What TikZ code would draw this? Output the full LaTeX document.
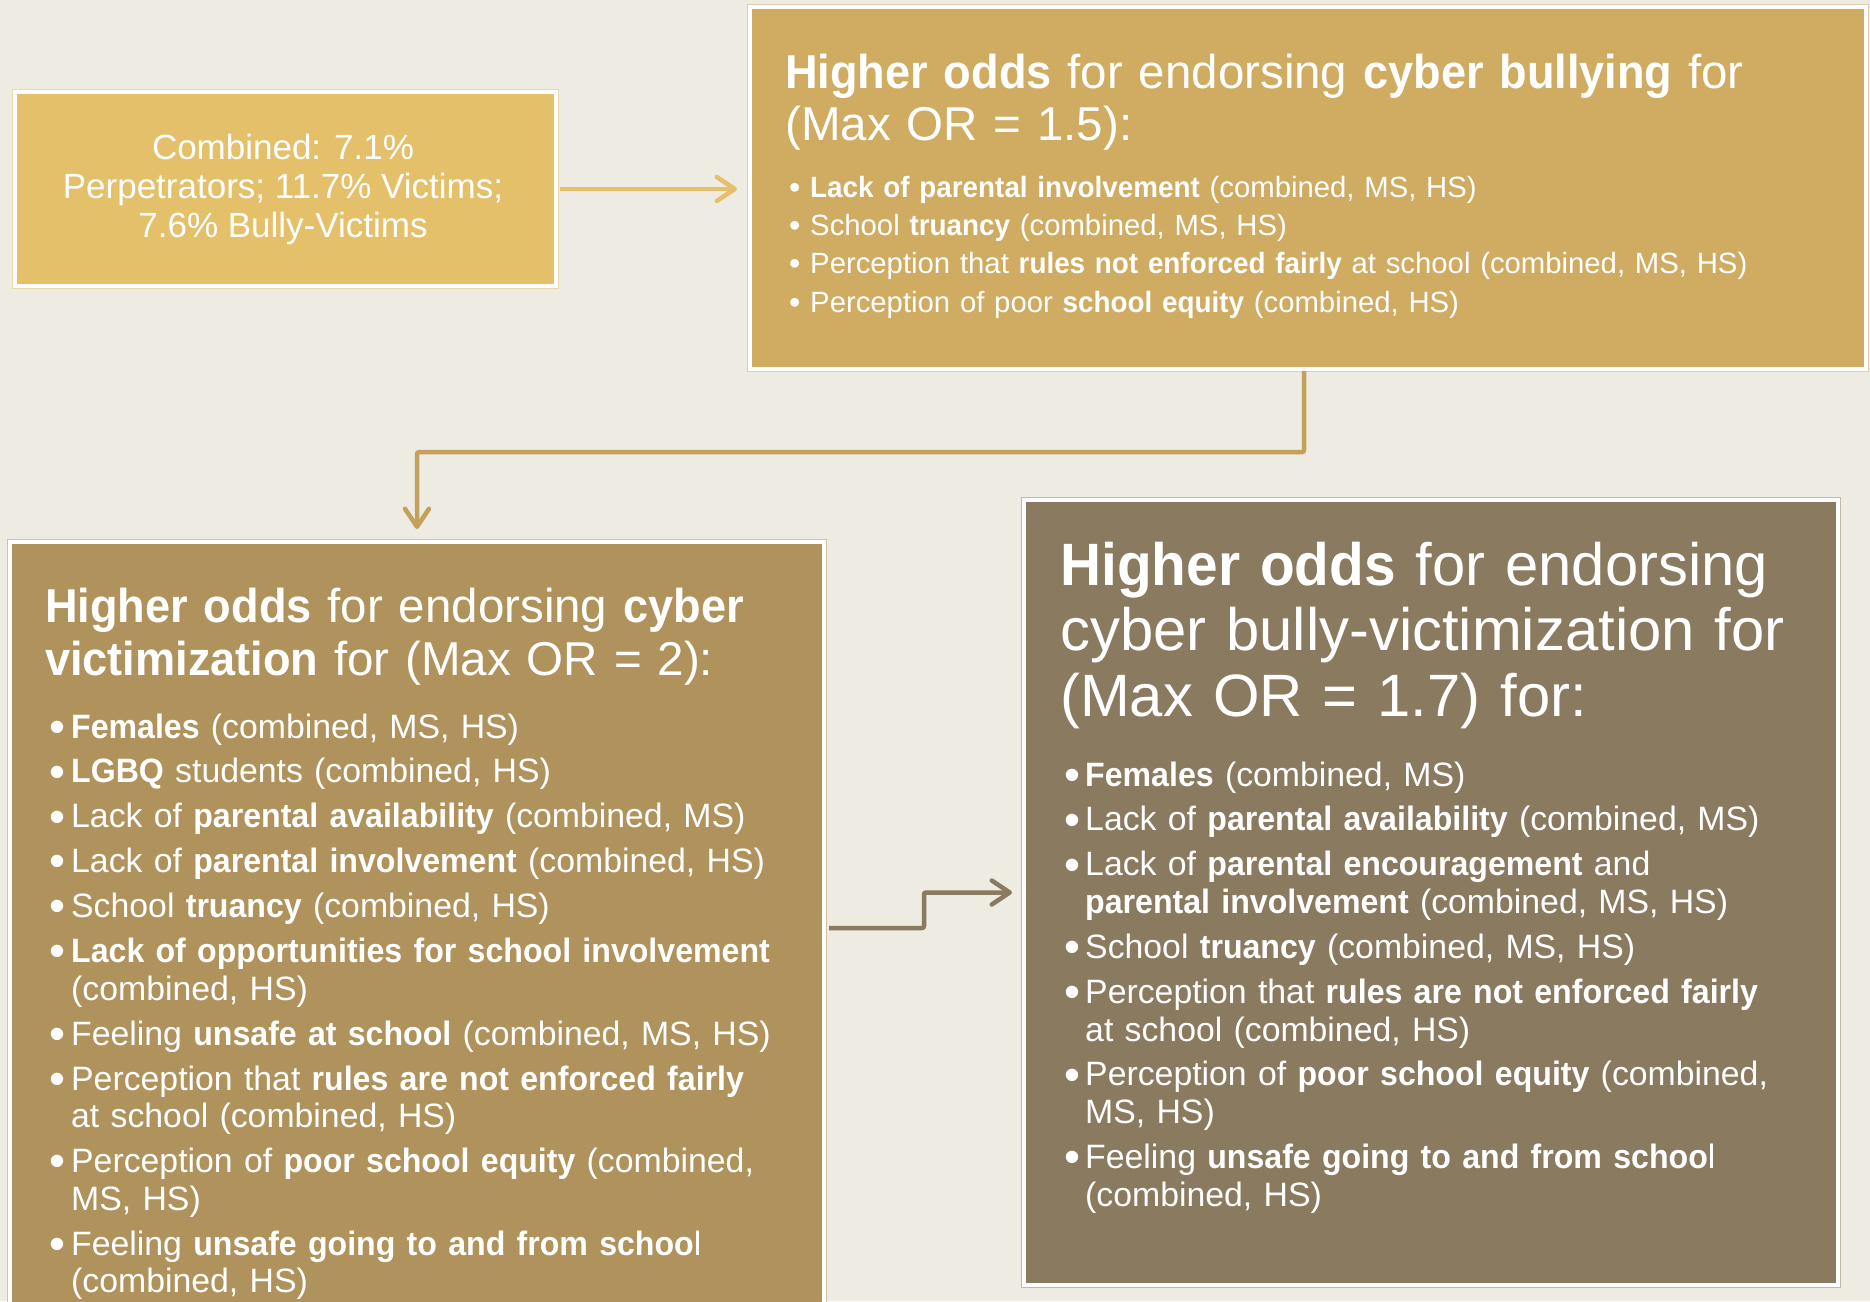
\documentclass[tikz,border=0pt]{standalone}
\usepackage{graphicx}
\usepackage{fontspec}
\setmainfont{Liberation Sans}[BoldFeatures={FakeStretch=0.95}]
\usetikzlibrary{arrows.meta,calc}

\definecolor{paper}{HTML}{EEEBE3}
\definecolor{goldA}{HTML}{E4C06A}
\definecolor{goldB}{HTML}{CFAC62}
\definecolor{goldC}{HTML}{B0935C}
\definecolor{taupeD}{HTML}{8A7A5F}
\definecolor{linkB}{HTML}{C4A15B}

% bulleted paragraphs with hanging indent and an enlarged dot
\newlength\bulletgap
\newcommand\dotscale{1}
\newcommand\dotraise{0em}
\newcommand\bigdot{\raisebox{\dotraise}{\scalebox{\dotscale}{\textbullet}}}
\newcommand\bfirst[1]{\hangindent=\bulletgap\hangafter=1\noindent\makebox[\bulletgap][l]{\bigdot}#1}
\newcommand\bitem[1]{\par\bfirst{#1}}

\begin{document}
\begin{tikzpicture}[x=1pt,y=-1pt,
  panel/.style={draw=white,line width=4pt,inner sep=0pt,anchor=north west,
    preaction={draw=#1!45!paper,line width=6.5pt},fill=#1},
  body/.style={text=white,inner sep=0pt,anchor=base west,align=left,text width=1000pt},
  link/.style={line width=4.5pt,draw=#1,rounded corners=2pt,
    -{Straight Barb[length=18pt,width=24pt,round]}}
]
\useasboundingbox (0,0) rectangle (1870,1301);
\clip (0,0) rectangle (1870,1301);
\fill[paper] (0,0) rectangle (1870,1301);

% panels
\node[panel=goldA,minimum width=541pt,minimum height=194pt] (a) at (13,90) {};
\node[panel=goldB,minimum width=1116pt,minimum height=362pt] (b) at (748,5) {};
\node[panel=goldC,minimum width=814pt,minimum height=772pt] (c) at (8,540) {};
\node[panel=taupeD,minimum width=814pt,minimum height=785pt] (d) at (1022,498) {};

% connectors
\coordinate (m1) at ($(b.south)!0.48!(c.north)$);
\coordinate (m2) at ($(c.east)!0.5!(d.west)$);
\draw[link=goldA,shorten <=2pt,shorten >=11pt] (a.east) -- (a.east -| b.west);
\draw[link=linkB,shorten >=11pt] ([xshift=-4pt]b.south) |- (m1) -| (c.north);
\draw[link=taupeD,shorten <=3pt,shorten >=10pt] (c.east) -| (m2) |- (d.west);

% texts
\node[text=white,inner sep=0pt,anchor=base,align=center,
  font=\fontsize{35}{38.7}\selectfont] (atext) at (283,237)
  {Combined: 7.1\%\\Perpetrators; 11.7\% Victims;\\7.6\% Bully-Victims};

\node[body,font=\fontsize{47.5}{52}\selectfont] (btitle) at (785,88)
  {\textbf{Higher odds} for endorsing \textbf{cyber bullying} for\\(Max OR = 1.5):};
\node[body,font=\fontsize{29.3}{38.4}\selectfont] (blist) at (789,197)
  {\setlength\bulletgap{21pt}\lineskiplimit=-50pt
   \renewcommand\dotscale{1.1}\renewcommand\dotraise{-0.036em}%
   \bfirst{\textbf{Lack of parental involvement} (combined, MS, HS)}
   \bitem{School \textbf{truancy} (combined, MS, HS)}
   \bitem{Perception that \textbf{rules not enforced fairly} at school (combined, MS, HS)}
   \bitem{Perception of poor \textbf{school equity} (combined, HS)}\par};

\node[body,font=\fontsize{47.5}{53}\selectfont] (ctitle) at (45,622)
  {\textbf{Higher odds} for endorsing \textbf{cyber}\\\textbf{victimization} for (Max OR = 2):};
\node[body,font=\fontsize{33.8}{37.7}\selectfont] (clist) at (49,738)
  {\setlength\bulletgap{22pt}\setlength\parskip{7.2pt}\lineskiplimit=-50pt
   \renewcommand\dotscale{1.35}\renewcommand\dotraise{-0.126em}%
   \bfirst{\textbf{Females} (combined, MS, HS)}
   \bitem{\textbf{LGBQ} students (combined, HS)}
   \bitem{Lack of \textbf{parental availability} (combined, MS)}
   \bitem{Lack of \textbf{parental involvement} (combined, HS)}
   \bitem{School \textbf{truancy} (combined, HS)}
   \bitem{\textbf{Lack of opportunities for school involvement}\newline(combined, HS)}
   \bitem{Feeling \textbf{unsafe at school} (combined, MS, HS)}
   \bitem{Perception that \textbf{rules are not enforced fairly}\newline at school (combined, HS)}
   \bitem{Perception of \textbf{poor school equity} (combined,\newline MS, HS)}
   \bitem{Feeling \textbf{unsafe going to and from schoo}l\newline(combined, HS)}\par};

\node[body,font=\fontsize{59.8}{65.5}\selectfont] (dtitle) at (1060,585)
  {\textbf{Higher odds} for endorsing\\cyber bully-victimization for\\(Max OR = 1.7) for:};
\node[body,font=\fontsize{33.8}{37.7}\selectfont] (dlist) at (1064,786)
  {\setlength\bulletgap{21pt}\setlength\parskip{7.2pt}\lineskiplimit=-50pt
   \renewcommand\dotscale{1.35}\renewcommand\dotraise{-0.126em}%
   \bfirst{\textbf{Females} (combined, MS)}
   \bitem{Lack of \textbf{parental availability} (combined, MS)}
   \bitem{Lack of \textbf{parental encouragement} and\newline\textbf{parental involvement} (combined, MS, HS)}
   \bitem{School \textbf{truancy} (combined, MS, HS)}
   \bitem{Perception that \textbf{rules are not enforced fairly}\newline at school (combined, HS)}
   \bitem{Perception of \textbf{poor school equity} (combined,\newline MS, HS)}
   \bitem{Feeling \textbf{unsafe going to and from schoo}l\newline(combined, HS)}\par};
\end{tikzpicture}
\end{document}
